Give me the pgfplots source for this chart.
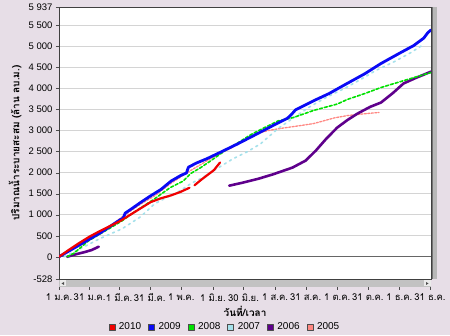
\documentclass[border=0pt]{standalone}
\usepackage{pgfplots}
\pgfplotsset{compat=1.18}
\usepackage{fontspec}
\setmainfont{Liberation Sans}
\newfontfamily\thai[Script=Thai]{Loma}
\definecolor{bgc}{RGB}{231,222,231}
\definecolor{c2010}{RGB}{240,0,0}
\definecolor{c2009}{RGB}{10,10,245}
\definecolor{c2008}{RGB}{0,225,0}
\definecolor{c2007}{RGB}{165,225,235}
\definecolor{c2006}{RGB}{95,0,140}
\definecolor{c2005}{RGB}{255,135,130}
\begin{document}
\begin{tikzpicture}
\fill[bgc] (0,0) rectangle (450bp,335bp);
\begin{axis}[
  at={(59bp,56bp)}, anchor=south west,
  width=372bp, height=272bp, scale only axis,
  xmin=0, xmax=365, ymin=-528, ymax=5937,
  axis background/.style={fill=white},
  axis line style={draw=black!75, line width=0.8bp},
  tick align=outside, major tick length=3bp,
  xtick pos=bottom, ytick pos=left,
  xtick={0,30,59,89,120,151,181,212,242,273,303,334,364},
  xticklabels={1 ม.ค.,31 ม.ค.,1 มี.ค.,31 มี.ค.,1 พ.ค.,1 มิ.ย.,30 มิ.ย.,1 ส.ค.,31 ส.ค.,1 ต.ค.,31 ต.ค.,1 ธ.ค.,31 ธ.ค.},
  xticklabel style={font=\thai\fontsize{9.5bp}{10bp}\selectfont, yshift=-8bp},
  xtick style={yshift=-8bp, draw=black!70},
  ytick={-528,0,500,1000,1500,2000,2500,3000,3500,4000,4500,5000,5500,5937},
  yticklabels={-528,0,500,1 000,1 500,2 000,2 500,3 000,3 500,4 000,4 500,5 000,5 500,5 937},
  yticklabel style={font=\fontsize{9.5bp}{10bp}\selectfont},
  ytick style={draw=black!70},
  ymajorgrids, grid style={draw=black!17, line width=0.8bp},
  extra y ticks={0}, extra y tick labels={},
  extra y tick style={grid style={draw=black!60, line width=1bp}, major tick length=0pt},
  xlabel={วันที่/เวลา},
  xlabel style={font=\thai\bfseries\fontsize{10bp}{11bp}\selectfont, at={(axis description cs:0.5,-0.118)}, anchor=center},
  ylabel={ปริมาณน้ำระบายสะสม (ล้าน ลบ.ม.)},
  ylabel style={font=\thai\bfseries\fontsize{10bp}{11bp}\selectfont, at={(axis description cs:-0.118,0.5)}, anchor=center, rotate=0},
  legend columns=6,
  legend style={at={(axis description cs:0.446,-0.176)}, anchor=center, draw=none, fill=none,
    font=\fontsize{10bp}{11bp}\selectfont,
    /tikz/every even column/.append style={column sep=5bp}},
  unbounded coords=jump,
  every axis plot/.append style={line join=round, line cap=round},
]
\addlegendimage{legend image code/.code={\draw[draw=black!70,fill=c2010] (0bp,-3bp) rectangle (6bp,3bp); \path (8bp,0bp);}}
\addlegendimage{legend image code/.code={\draw[draw=black!70,fill=c2009] (0bp,-3bp) rectangle (6bp,3bp); \path (8bp,0bp);}}
\addlegendimage{legend image code/.code={\draw[draw=black!70,fill=c2008] (0bp,-3bp) rectangle (6bp,3bp); \path (8bp,0bp);}}
\addlegendimage{legend image code/.code={\draw[draw=black!70,fill=c2007] (0bp,-3bp) rectangle (6bp,3bp); \path (8bp,0bp);}}
\addlegendimage{legend image code/.code={\draw[draw=black!70,fill=c2006] (0bp,-3bp) rectangle (6bp,3bp); \path (8bp,0bp);}}
\addlegendimage{legend image code/.code={\draw[draw=black!70,fill=c2005] (0bp,-3bp) rectangle (6bp,3bp); \path (8bp,0bp);}}
\legend{2010,2009,2008,2007,2006,2005}
% 2005
\addplot[forget plot, c2005, line width=1.3bp, dash pattern=on 2bp off 1.5bp] coordinates {
(0,0) (20,260) (40,540) (62,950) (80,1250) (94,1450) (110,1750) (129,2048) (150,2350) (170,2600) (185,2810) (195,2930) (205,3000) (220,3060) (237,3119) (250,3167) (270,3300) (283,3357) (300,3400) (314,3430)};
% 2006
\addplot[forget plot, c2006, line width=2.6bp] coordinates {
(8,0) (15,50) (25,110) (32,160) (39,240) (40,nan) (167,1690) (180,1760) (196,1857) (210,1960) (229,2119) (242,2286) (252,2524) (262,2800) (273,3071) (283,3250) (293,3405) (305,3560) (316,3667) (328,3900) (338,4119) (350,4250) (365,4400)};
% 2007
\addplot[forget plot, c2007, line width=1.6bp, dash pattern=on 2bp off 4bp] coordinates {
(5,0) (20,180) (40,430) (62,667) (80,950) (94,1262) (105,1400) (119,1571) (130,1750) (140,1870) (155,2095) (171,2333) (185,2500) (198,2690) (215,3050) (230,3300) (245,3550) (262,3786) (280,4000) (295,4200) (311,4430) (330,4650) (345,4850) (358,5050)};
% 2008
\addplot[forget plot, c2008, line width=1.6bp, dash pattern=on 3bp off 2bp] coordinates {
(8,0) (15,90) (29,380) (40,540) (50,680) (62,857) (75,1080) (94,1381) (109,1643) (122,1800) (129,1976) (139,2119) (150,2300) (163,2524) (175,2700) (188,2900) (200,3050) (215,3230) (230,3310) (250,3480) (273,3630) (283,3740) (300,3880) (316,4024) (340,4200) (365,4380)};
% 2009
\addplot[forget plot, c2009, line width=2.8bp] coordinates {
(0,0) (10,140) (20,280) (30,420) (40,560) (50,720) (60,880) (63,920) (65,1040) (70,1120) (80,1290) (90,1450) (100,1600) (110,1800) (120,1940) (125,1990) (127,2130) (135,2230) (145,2330) (158,2480) (175,2680) (191,2880) (210,3120) (224,3290) (228,3380) (232,3490) (250,3710) (265,3880) (279,4070) (300,4350) (316,4595) (335,4850) (348,5020) (358,5200) (362,5330) (365,5390)};
% 2010
\addplot[forget plot, c2010, line width=2.2bp] coordinates {
(0,0) (10,170) (20,330) (30,480) (40,610) (50,730) (60,850) (70,1000) (80,1150) (90,1300) (100,1390) (110,1460) (119,1540) (128,1640) (130,nan) (133,1700) (139,1820) (146,1950) (152,2060) (158,2240)};
\end{axis}
% scrollbars
\fill[black!24] (59bp,48bp) rectangle (431bp,55bp);
\fill[black!8] (59.5bp,48.5bp) rectangle (66bp,54.5bp);
\fill[black!70] (61.5bp,51.5bp) -- (64bp,53bp) -- (64bp,50bp) -- cycle;
\fill[black!8] (424bp,48.5bp) rectangle (430.5bp,54.5bp);
\fill[black!70] (428.5bp,51.5bp) -- (426bp,53bp) -- (426bp,50bp) -- cycle;
\fill[black!28] (432bp,56bp) rectangle (437bp,328bp);
\draw[black!55, line width=0.8bp] (432bp,56bp) -- (432bp,328bp);
\end{tikzpicture}
\end{document}
